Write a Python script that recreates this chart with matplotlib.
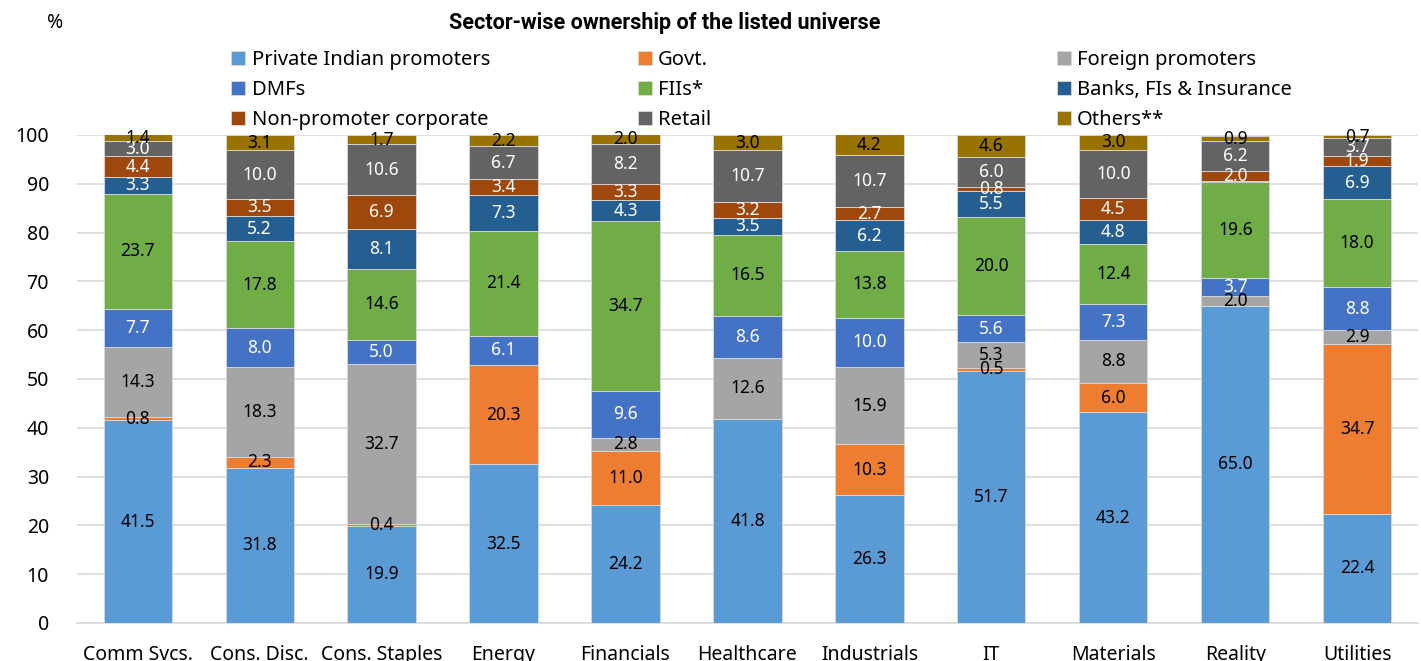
import numpy as np
import matplotlib
matplotlib.use("Agg")
import matplotlib.pyplot as plt

plt.rcParams["font.family"] = ["Noto Sans", "DejaVu Sans"]

sectors = ["Comm Svcs.", "Cons. Disc.", "Cons. Staples", "Energy", "Financials",
           "Healthcare", "Industrials", "IT", "Materials", "Reality", "Utilities"]

private_promoters = [41.5, 31.8, 19.9, 32.5, 24.2, 41.8, 26.3, 51.7, 43.2, 65.0, 22.4]
govt              = [0.8, 2.3, 0.4, 20.3, 11.0, 0.0, 10.3, 0.5, 6.0, 0.0, 34.7]
foreign_promoters = [14.3, 18.3, 32.7, 0.0, 2.8, 12.6, 15.9, 5.3, 8.8, 2.0, 2.9]
dmfs              = [7.7, 8.0, 5.0, 6.1, 9.6, 8.6, 10.0, 5.6, 7.3, 3.7, 8.8]
fiis              = [23.7, 17.8, 14.6, 21.4, 34.7, 16.5, 13.8, 20.0, 12.4, 19.6, 18.0]
banks_fis         = [3.3, 5.2, 8.1, 7.3, 4.3, 3.5, 6.2, 5.5, 4.8, 0.3, 6.9]
non_promoter_corp = [4.4, 3.5, 6.9, 3.4, 3.3, 3.2, 2.7, 0.8, 4.5, 2.0, 1.9]
retail            = [3.0, 10.0, 10.6, 6.7, 8.2, 10.7, 10.7, 6.0, 10.0, 6.2, 3.7]
others            = [1.4, 3.1, 1.7, 2.2, 2.0, 3.0, 4.2, 4.6, 3.0, 0.9, 0.7]

series = [
    ("Private Indian promoters", private_promoters, "#5B9BD5", "black"),
    ("Govt.", govt, "#ED7D31", "black"),
    ("Foreign promoters", foreign_promoters, "#A5A5A5", "black"),
    ("DMFs", dmfs, "#4472C4", "white"),
    ("FIIs*", fiis, "#70AD47", "black"),
    ("Banks, FIs & Insurance", banks_fis, "#255E91", "white"),
    ("Non-promoter corporate", non_promoter_corp, "#9E480E", "white"),
    ("Retail", retail, "#636363", "white"),
    ("Others**", others, "#997300", "black"),
]

fig = plt.figure(figsize=(14.21, 6.61), dpi=100)
ax = fig.add_axes([0.054, 0.0575, 0.944, 0.7383])

x = np.arange(len(sectors))
bottom = np.zeros(len(sectors))
handles = []
for name, vals, color, tcol in series:
    vals = np.array(vals)
    bars = ax.bar(x, vals, 0.56, bottom=bottom, color=color, edgecolor="#d9d9d9",
                  linewidth=0.6, label=name, zorder=3)
    handles.append(bars)
    for xi, b, v in zip(x, bottom, vals):
        if v >= 0.35:
            ax.text(xi, b + v / 2, f"{v:.1f}", ha="center", va="center",
                    fontsize=12.5, color=tcol, zorder=4)
    bottom += vals

ax.set_xlim(-0.5, len(sectors) - 0.5)
ax.set_ylim(0, 100)
ax.set_yticks(range(0, 101, 10))
ax.yaxis.grid(True, color="#d9d9d9", linewidth=1.2, zorder=0)
ax.set_axisbelow(True)
for s in ["top", "right", "left"]:
    ax.spines[s].set_visible(False)
ax.spines["bottom"].set_color("#d9d9d9")
ax.spines["bottom"].set_linewidth(1.2)
ax.tick_params(axis="both", length=0, labelsize=14)
ax.tick_params(axis="y", pad=20)
ax.tick_params(axis="x", pad=16)
ax.set_xticks(x)
ax.set_xticklabels(sectors)

fig.text(0.039, 0.965, "%", fontsize=14, ha="center", va="center")
fig.text(0.468, 0.965, "Sector-wise ownership of the listed universe", fontsize=15.5,
         fontweight="bold", family=["Roboto", "DejaVu Sans"], ha="center", va="center")

# legend: three columns placed separately
col_x = [0.160, 0.446, 0.741]
for c in range(3):
    idx = [c, c + 3, c + 6]
    fig.legend([handles[i] for i in idx], [series[i][0] for i in idx],
               loc="upper left", bbox_to_anchor=(col_x[c], 0.93),
               frameon=False, fontsize=14.5, handlelength=0.7, handleheight=0.7,
               handletextpad=0.3, labelspacing=0.48, borderaxespad=0,
               borderpad=0.2)

fig.savefig("out.png", dpi=100)
